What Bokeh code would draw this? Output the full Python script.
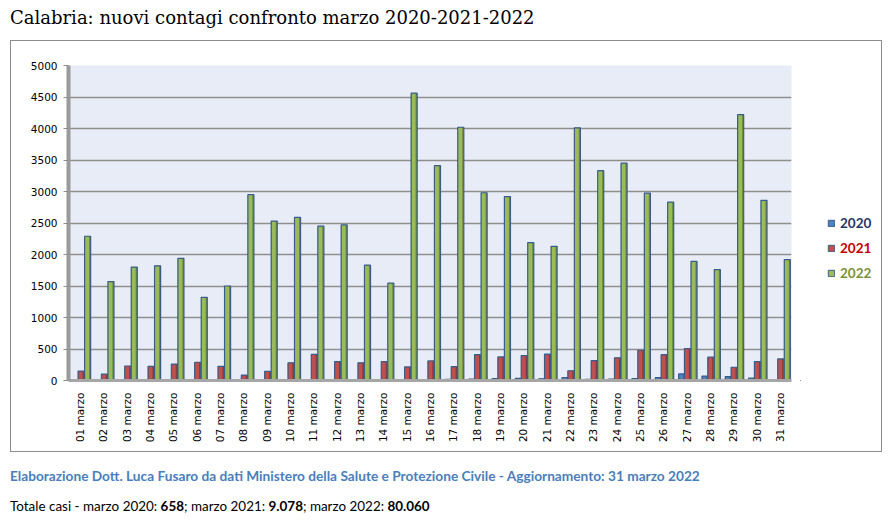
import glob
import os

import numpy as np
from bokeh.embed import file_html
from bokeh.layouts import column, row
from bokeh.models import (ColumnDataSource, Div, FactorRange, FixedTicker, Legend,
                          LegendItem, Range1d)
from bokeh.plotting import figure
from bokeh.resources import INLINE
from bokeh.transform import dodge

# ---------------- data ----------------
days = [f"{d:02d} marzo" for d in range(1, 32)]
cases_2020 = [1, 0, 0, 0, 1, 0, 2, 3, 4, 4, 6, 8, 8, 12, 10, 14, 18, 22, 32, 34,
              28, 48, 20, 22, 30, 46, 105, 68, 62, 40, 10]
cases_2021 = [150, 100, 230, 225, 260, 290, 225, 85, 145, 280, 415, 300, 280, 300, 215, 310,
              220, 410, 375, 395, 420, 155, 315, 360, 480, 410, 505, 370, 210, 300, 343]
cases_2022 = [2290, 1570, 1800, 1820, 1940, 1320, 1500, 2950, 2530, 2590, 2450, 2470, 1830,
              1545, 4560, 3410, 4020, 2980, 2920, 2190, 2130, 4010, 3330, 3450, 2975, 2830,
              1890, 1760, 4220, 2860, 1920]
years = ["2020", "2021", "2022"]
y_ticks = list(range(0, 5001, 500))

title_text = "Calabria: nuovi contagi confronto marzo 2020-2021-2022"
source_text = ("Elaborazione Dott. Luca Fusaro da dati Ministero della Salute e Protezione "
               "Civile - Aggiornamento: 31 marzo 2022")
total_parts = ["Totale casi - marzo 2020: ", "658", "; marzo 2021: ", "9.078",
               "; marzo 2022: ", "80.060"]
total_bold = [False, True, False, True, False, True]

# ---------------- font measuring helpers ----------------
def find_font(names):
    roots = ["/usr/share/fonts", "/usr/local/share/fonts", os.path.expanduser("~/.fonts"),
             os.path.expanduser("~/.local/share/fonts")]
    for n in names:
        for r in roots:
            hits = glob.glob(os.path.join(r, "**", n), recursive=True)
            if hits:
                return hits[0]
    return None

try:
    from PIL import ImageFont
except Exception:
    ImageFont = None

def text_len(text, path, size, em=0.5):
    if path and ImageFont is not None:
        try:
            return ImageFont.truetype(path, 100).getlength(text) * size / 100.0
        except Exception:
            pass
    return len(text) * size * em

def clamp(v, lo, hi):
    return max(lo, min(hi, v))

lato_reg = find_font(["Lato-Regular.ttf"])
lato_bold = find_font(["Lato-Bold.ttf"])
serif_path = find_font(["DejaVuSerif.ttf"])

# ---------------- main chart ----------------
PW, PH = 789, 410
BT, BB = 24, 71          # top / bottom borders of the plotting frame
p = figure(width=PW, height=PH, output_backend="svg", toolbar_location=None,
           x_range=FactorRange(factors=days, range_padding=0),
           y_range=Range1d(0, 5000),
           min_border_left=57, min_border_right=9, min_border_top=BT, min_border_bottom=BB,
           background_fill_color="#E8ECF6", border_fill_color="white",
           outline_line_color=None)

src = ColumnDataSource(dict(day=days, v2020=cases_2020, v2021=cases_2021, v2022=cases_2022))

bw = 0.26
fw = 0.18
styles = [
    ("v2020", -0.21, "#4F81BD", "#3A6597"),
    ("v2021", 0.04, "#C0504D", "#943634"),
    ("v2022", 0.32, "#9BBB59", "#6E8B3D"),
]
for col, off, front, side in styles:
    p.vbar(x=dodge("day", off, range=p.x_range), top=col, width=bw, source=src,
           fill_color=side, line_color=None)
    p.vbar(x=dodge("day", off - (bw - fw) / 2 + 0.01, range=p.x_range), top=col,
           width=fw, source=src, fill_color=front, line_color=None)
    p.vbar(x=dodge("day", off, range=p.x_range), top=col, width=bw, source=src,
           fill_color=None, line_color="#385D8A", line_width=1.2)

p.ygrid.grid_line_color = "#8E8E8E"
p.ygrid.grid_line_width = 1.5
p.xgrid.grid_line_color = None

p.yaxis.ticker = FixedTicker(ticks=y_ticks)
p.yaxis.axis_line_color = "#9A9A9A"
p.yaxis.axis_line_width = 4
p.yaxis.major_tick_line_color = "#8C8C8C"
p.yaxis.major_tick_out = 5
p.yaxis.major_tick_in = 0
p.yaxis.minor_tick_line_color = None
p.yaxis.major_label_standoff = 6
p.yaxis.major_label_text_font = "DejaVu Sans"
p.yaxis.major_label_text_font_size = "10.5px"
p.yaxis.major_label_text_color = "#000000"

p.xaxis.axis_line_color = "#A6A6A6"
p.xaxis.axis_line_width = 3
p.xaxis.major_tick_line_color = None
p.xaxis.major_tick_out = 6
p.xaxis.major_label_standoff = 6
p.xaxis.major_label_orientation = np.pi / 2
p.xaxis.major_label_text_font = "DejaVu Sans"
p.xaxis.major_label_text_font_size = "10.5px"
p.xaxis.major_label_text_color = "#000000"

# ---------------- legend panel ----------------
LW = 81
lg = figure(width=LW, height=PH, output_backend="svg", toolbar_location=None,
            x_range=Range1d(0, LW), y_range=Range1d(0, 100),
            x_axis_type=None, y_axis_type=None,
            min_border_left=0, min_border_right=0, min_border_top=BT, min_border_bottom=BB,
            background_fill_color="white", border_fill_color="white",
            outline_line_color=None)
lg.xgrid.visible = False
lg.ygrid.visible = False

leg_fill = ["#4F81BD", "#C0504D", "#9BBB59"]
leg_text = ["#1F3864", "#C00000", "#77933C"]
leg_center_y = [222.7, 248.0, 272.7]       # page y of each entry
FRAME_BOTTOM = 380                          # page y of the frames' bottom edge
for yr, fc, tc, cy in zip(years, leg_fill, leg_text, leg_center_y):
    # hidden stand-in renderer (outside the visible range) that only feeds the legend swatch
    r = lg.vbar(x=[-1000], top=[-1000], width=1, fill_color=fc,
                line_color="#385D8A", line_width=1)
    yb = FRAME_BOTTOM - cy - 8
    leg = Legend(items=[LegendItem(label=yr, renderers=[r])],
                 location=(27, yb), orientation="vertical",
                 glyph_width=8, glyph_height=8, label_height=16, label_standoff=5,
                 label_text_font="Lato", label_text_font_style="bold",
                 label_text_font_size="13.5px", label_text_color=tc,
                 label_text_baseline="middle",
                 background_fill_alpha=0, border_line_color=None,
                 padding=0, margin=0, spacing=0)
    lg.add_layout(leg)

chart_box = row(p, lg, spacing=0, margin=(0, 0, 0, 2),
                styles={"border": "1px solid #8C8C8C"})

# ---------------- texts ----------------
tsize = clamp(100 * 525 / text_len(title_text, serif_path, 100, 0.55), 15, 21)
title_div = Div(text=title_text, width=878, height=32, margin=0,
                styles={"font-family": "'DejaVu Serif', serif",
                        "font-size": f"{tsize:.1f}px", "line-height": "20px",
                        "color": "#000000", "padding-left": "2px",
                        "white-space": "nowrap"})

ssize = clamp(100 * 690 / text_len(source_text, lato_bold, 100, 0.52), 10, 15)
tot100 = sum(text_len(t, lato_bold if b else lato_reg, 100, 0.52 if b else 0.5)
             for t, b in zip(total_parts, total_bold))
tsz = clamp(100 * 420 / tot100, 10, 15)
tot_html = "".join(f"<b>{t}</b>" if b else t for t, b in zip(total_parts, total_bold))
bottom_html = (
    f"<div style=\"margin-top:14px;line-height:20px;font-family:Lato,sans-serif;"
    f"font-weight:bold;font-size:{ssize:.2f}px;color:#4A7EBB;white-space:nowrap;"
    f"padding-left:2px\">{source_text}</div>"
    f"<div style=\"margin-top:12px;line-height:16px;font-family:Lato,sans-serif;"
    f"font-size:{tsz:.2f}px;color:#000000;white-space:nowrap;padding-left:2px\">"
    f"{tot_html}</div>"
)
bottom_div = Div(text=bottom_html, width=878, height=62, margin=0)

layout = column(title_div, chart_box, bottom_div, spacing=0, margin=(8, 0, 0, 8))

open("out.html", "w").write(file_html(layout, INLINE))
